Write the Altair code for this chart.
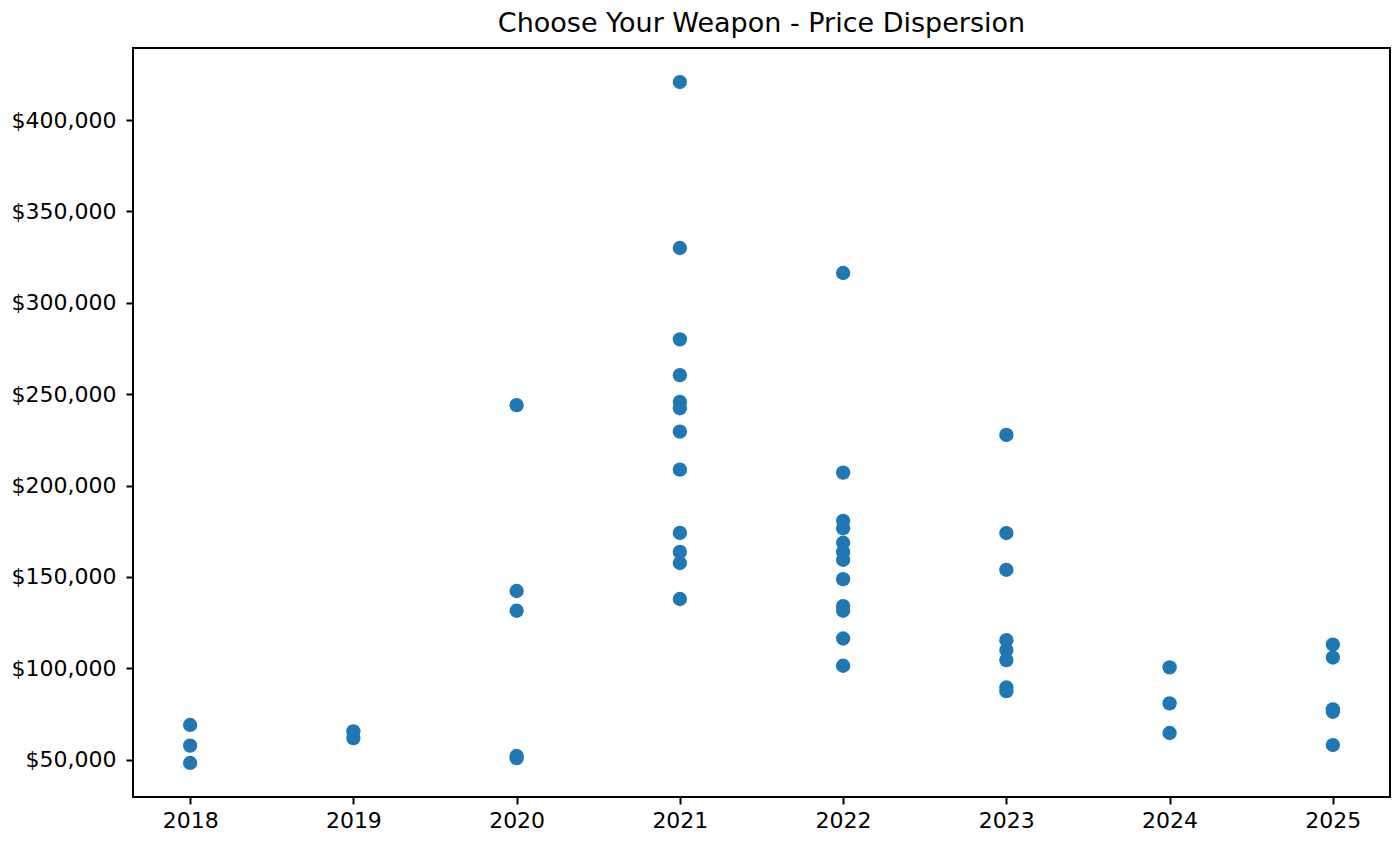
import altair as alt
import pandas as pd

prices_2018 = [69000, 57700, 48200]
prices_2019 = [65500, 61800]
prices_2020 = [244000, 142300, 131500, 52000, 50800]
prices_2021 = [420800, 330000, 280000, 260400, 245800, 242300, 229500, 208700,
               174100, 163700, 157600, 137900]
prices_2022 = [316300, 207100, 180700, 176700, 168700, 163700, 159400, 148800,
               134000, 131500, 116300, 101400]
prices_2023 = [227700, 174000, 153900, 115400, 110000, 104500, 89500, 87500]
prices_2024 = [100500, 80800, 64600]
prices_2025 = [113000, 105900, 77500, 76200, 58000]

years = [2018, 2019, 2020, 2021, 2022, 2023, 2024, 2025]
price_lists = [prices_2018, prices_2019, prices_2020, prices_2021,
               prices_2022, prices_2023, prices_2024, prices_2025]
y_ticks = [50000, 100000, 150000, 200000, 250000, 300000, 350000, 400000]

rows = []
for yr, plist in zip(years, price_lists):
    for p in plist:
        rows.append({"year": yr, "price": p})
df = pd.DataFrame(rows)

FONT = "DejaVu Sans"

chart = (
    alt.Chart(df)
    .mark_circle(size=205, opacity=1, color="#1f77b4")
    .encode(
        x=alt.X(
            "year:Q",
            scale=alt.Scale(domain=[2017.65, 2025.35], nice=False, zero=False),
            axis=alt.Axis(values=years, format="d", title=None, grid=False),
        ),
        y=alt.Y(
            "price:Q",
            scale=alt.Scale(domain=[29570, 439430], nice=False, zero=False),
            axis=alt.Axis(values=y_ticks, format="$,.0f", title=None, grid=False),
        ),
    )
    .properties(
        width=1257,
        height=749,
        title=alt.TitleParams(
            "Choose Your Weapon - Price Dispersion",
            font=FONT,
            fontSize=27,
            fontWeight="normal",
            color="black",
            anchor="middle",
            offset=10,
        ),
        autosize=alt.AutoSizeParams(type="none"),
        padding={"left": 125, "top": 40, "right": 2, "bottom": 40},
    )
    .configure(background="white")
    .configure_view(stroke="black", strokeWidth=2)
    .configure_axis(
        domain=False,
        tickColor="black",
        tickWidth=2,
        tickSize=7,
        labelFont=FONT,
        labelFontSize=22,
        labelColor="black",
        labelPadding=6,
    )
    .configure_axisY(labelPadding=10)
)

chart.save("out.html", embed_options={"renderer": "svg", "actions": False})
